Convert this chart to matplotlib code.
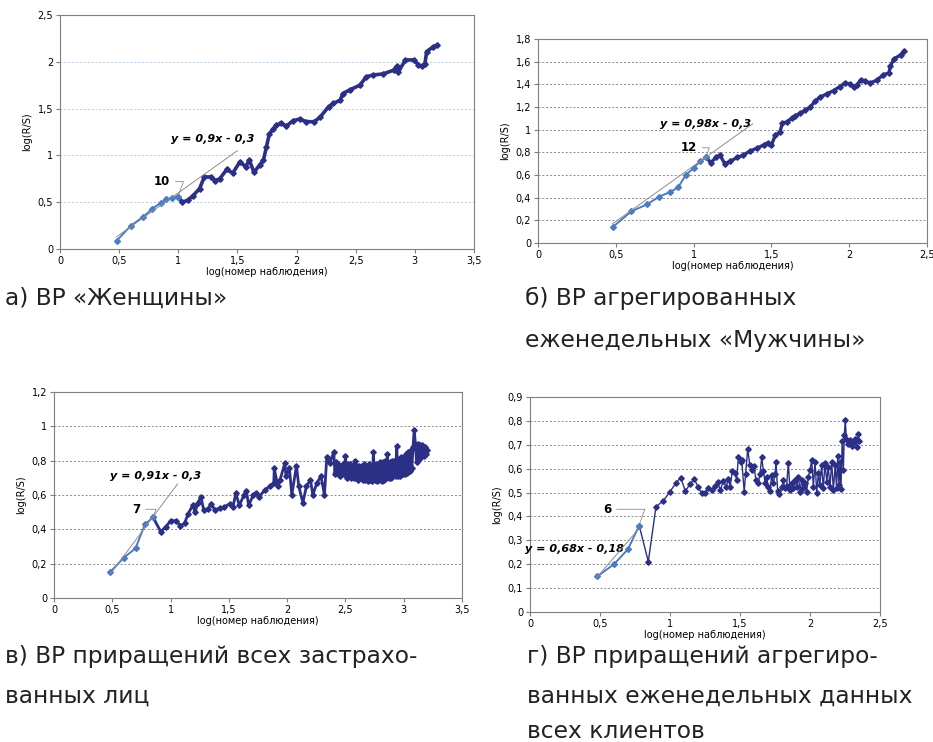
import matplotlib
matplotlib.use("Agg")
import matplotlib.pyplot as plt
from matplotlib.ticker import MultipleLocator, FuncFormatter

# --- данные ---
# а) ВР «Женщины»
a_light_x = [0.48, 0.60, 0.70, 0.78, 0.85, 0.90, 0.95, 1.00]
a_light_y = [0.09, 0.25, 0.34, 0.43, 0.49, 0.53, 0.55, 0.56]
a_dark_x = [1.00, 1.03, 1.08, 1.125, 1.18, 1.22, 1.28, 1.31, 1.35, 1.41, 1.46, 1.52,
            1.57, 1.60, 1.64, 1.69, 1.72, 1.745, 1.77, 1.80, 1.83, 1.87, 1.91, 1.97,
            2.03, 2.08, 2.15, 2.20, 2.27, 2.31, 2.37, 2.39, 2.45, 2.535, 2.59, 2.65,
            2.73, 2.82, 2.845, 2.86, 2.92, 2.99, 3.03, 3.06, 3.085, 3.10, 3.155, 3.19]
a_dark_y = [0.56, 0.50, 0.52, 0.57, 0.645, 0.77, 0.77, 0.73, 0.75, 0.85, 0.81, 0.93,
            0.88, 0.95, 0.82, 0.90, 0.95, 1.09, 1.23, 1.28, 1.32, 1.35, 1.31, 1.37,
            1.39, 1.36, 1.36, 1.41, 1.52, 1.555, 1.59, 1.66, 1.70, 1.75, 1.84, 1.86,
            1.87, 1.91, 1.95, 1.89, 2.02, 2.02, 1.97, 1.95, 1.98, 2.11, 2.16, 2.18]
a_fit_x = [0.477, 1.5]
a_slope, a_icpt = 0.9, -0.3

# б) ВР агрегированных еженедельных «Мужчины»
b_light_x = [0.48, 0.60, 0.70, 0.78, 0.85, 0.90, 0.95, 1.00, 1.04, 1.08]
b_light_y = [0.14, 0.28, 0.34, 0.41, 0.45, 0.49, 0.60, 0.66, 0.72, 0.755]
b_dark_x = [1.08, 1.11, 1.145, 1.17, 1.20, 1.235, 1.28, 1.32, 1.36, 1.405, 1.45, 1.48,
            1.50, 1.525, 1.555, 1.57, 1.60, 1.63, 1.65, 1.685, 1.715, 1.75, 1.78, 1.81,
            1.855, 1.90, 1.94, 1.975, 2.005, 2.03, 2.05, 2.075, 2.10, 2.135, 2.18, 2.22,
            2.255, 2.265, 2.285, 2.33, 2.35]
b_dark_y = [0.755, 0.71, 0.755, 0.775, 0.70, 0.72, 0.755, 0.775, 0.81, 0.835, 0.865, 0.885,
            0.865, 0.95, 0.98, 1.055, 1.07, 1.10, 1.12, 1.145, 1.17, 1.20, 1.25, 1.285,
            1.315, 1.345, 1.38, 1.415, 1.40, 1.38, 1.395, 1.44, 1.43, 1.41, 1.44, 1.485,
            1.50, 1.56, 1.62, 1.66, 1.69]
b_fit_x = [0.477, 1.38]
b_slope, b_icpt = 0.98, -0.3

# в) ВР приращений всех застрахованных лиц
c_light_x = [0.48, 0.60, 0.70, 0.78, 0.85]
c_light_y = [0.15, 0.235, 0.29, 0.43, 0.47]
c_dark_x = [0.85, 0.915, 0.96, 1.00, 1.05, 1.085, 1.12, 1.15, 1.19, 1.21, 1.235, 1.26,
            1.285, 1.32, 1.35, 1.38, 1.42, 1.46, 1.51, 1.535, 1.56, 1.59, 1.63, 1.65,
            1.67, 1.71, 1.735, 1.76, 1.81, 1.85, 1.885, 1.89, 1.92, 1.94, 1.98, 1.99,
            2.02, 2.04, 2.08, 2.10, 2.135, 2.165, 2.20, 2.22, 2.255, 2.29, 2.32, 2.34,
            2.365,
            2.40, 2.41, 2.42, 2.43, 2.44, 2.45, 2.46, 2.47, 2.48, 2.49, 2.50, 2.51,
            2.52, 2.53, 2.54, 2.55, 2.56, 2.57, 2.58, 2.59, 2.60, 2.61, 2.62, 2.63,
            2.64, 2.65, 2.66, 2.67, 2.68, 2.69, 2.70, 2.71, 2.72, 2.73, 2.74, 2.75,
            2.76, 2.77, 2.78, 2.79, 2.80, 2.81, 2.82, 2.83, 2.84, 2.85, 2.86, 2.87,
            2.88, 2.89, 2.90, 2.91, 2.92, 2.93, 2.94, 2.95, 2.96, 2.97, 2.98, 2.99,
            3.00, 3.01, 3.02, 3.03, 3.04, 3.05, 3.06, 3.07, 3.08, 3.09, 3.10, 3.11,
            3.12, 3.13, 3.14, 3.15, 3.16, 3.17, 3.18, 3.19, 3.20]
c_dark_y = [0.47, 0.387, 0.415, 0.45, 0.45, 0.42, 0.435, 0.49, 0.54, 0.50, 0.555, 0.59,
            0.51, 0.52, 0.55, 0.51, 0.525, 0.53, 0.55, 0.53, 0.61, 0.54, 0.60, 0.625,
            0.54, 0.60, 0.61, 0.59, 0.63, 0.65, 0.67, 0.755, 0.65, 0.69, 0.785, 0.71,
            0.755, 0.60, 0.77, 0.65, 0.555, 0.65, 0.69, 0.60, 0.67, 0.71, 0.60, 0.82,
            0.785,
            0.85, 0.72, 0.79, 0.73, 0.78, 0.71, 0.77, 0.72, 0.78, 0.72, 0.83, 0.70,
            0.78, 0.71, 0.78, 0.70, 0.77, 0.70, 0.80, 0.70, 0.77, 0.69, 0.77, 0.70,
            0.77, 0.69, 0.78, 0.69, 0.77, 0.68, 0.78, 0.69, 0.77, 0.68, 0.85, 0.69,
            0.78, 0.68, 0.78, 0.69, 0.79, 0.68, 0.79, 0.69, 0.80, 0.70, 0.84, 0.70,
            0.79, 0.70, 0.80, 0.71, 0.80, 0.71, 0.885, 0.71, 0.81, 0.71, 0.82, 0.72,
            0.82, 0.72, 0.84, 0.73, 0.85, 0.74, 0.86, 0.76, 0.88, 0.98, 0.90, 0.79,
            0.90, 0.81, 0.89, 0.82, 0.89, 0.83, 0.88, 0.84, 0.86]
c_fit_x = [0.486, 1.06]
c_slope, c_icpt = 0.91, -0.3

# г) ВР приращений агрегированных еженедельных данных всех клиентов
d_light_x = [0.48, 0.60, 0.70, 0.78]
d_light_y = [0.149, 0.20, 0.263, 0.362]
d_dark_x = [0.78, 0.845, 0.90, 0.952, 1.00, 1.04, 1.076, 1.11, 1.143, 1.174, 1.20, 1.226,
            1.25, 1.274, 1.30, 1.32, 1.34, 1.36, 1.38, 1.40, 1.417, 1.43, 1.445, 1.464,
            1.476, 1.488, 1.505, 1.512, 1.53, 1.54, 1.555, 1.57, 1.588, 1.60, 1.614, 1.63,
            1.643, 1.655, 1.667, 1.68, 1.69, 1.70, 1.714, 1.726, 1.738, 1.75, 1.757, 1.769,
            1.78, 1.80, 1.81, 1.82, 1.833, 1.845, 1.857, 1.87, 1.88, 1.893, 1.905, 1.917,
            1.93, 1.94, 1.952, 1.964, 1.976, 1.988, 2.00, 2.012, 2.024, 2.036, 2.048, 2.06,
            2.07, 2.083, 2.095, 2.107, 2.12, 2.13, 2.143, 2.155, 2.167, 2.18, 2.19, 2.198,
            2.207, 2.214, 2.221, 2.23, 2.238, 2.245, 2.252, 2.26, 2.274, 2.286, 2.298,
            2.31, 2.321, 2.333, 2.345, 2.352]
d_dark_y = [0.362, 0.211, 0.441, 0.465, 0.504, 0.538, 0.563, 0.506, 0.536, 0.556, 0.524, 0.497,
            0.50, 0.517, 0.51, 0.527, 0.544, 0.51, 0.55, 0.524, 0.555, 0.524, 0.59, 0.58,
            0.552, 0.647, 0.626, 0.636, 0.504, 0.577, 0.682, 0.615, 0.594, 0.61, 0.552, 0.542,
            0.577, 0.647, 0.591, 0.538, 0.566, 0.524, 0.506, 0.573, 0.538, 0.577, 0.629, 0.506,
            0.492, 0.524, 0.552, 0.517, 0.527, 0.625, 0.51, 0.538, 0.517, 0.552, 0.524, 0.566,
            0.504, 0.552, 0.517, 0.538, 0.504, 0.566, 0.594, 0.636, 0.524, 0.629, 0.50, 0.58,
            0.531, 0.615, 0.517, 0.622, 0.545, 0.608, 0.524, 0.629, 0.51, 0.615, 0.517, 0.652,
            0.531, 0.629, 0.513, 0.715, 0.594, 0.74, 0.805, 0.726, 0.705, 0.719, 0.694,
            0.708, 0.726, 0.691, 0.747, 0.716]
d_fit_x = [0.476, 0.774]
d_slope, d_icpt = 0.68, -0.18

LIGHT = "#4a7cc4"
DARK = "#2b2f86"


def fmt_comma(v, pos):
    return ("%g" % round(v, 2)).replace(".", ",")


def panel(rect, lx, ly, dx, dy, fit_x, k, b, xmax, ymax, ystep, grid_col,
          eq_txt, eq_xy, lab, lab_xy, lab_to, dark_lw):
    ax = fig.add_axes(rect)
    ax.plot(dx, dy, color=DARK, lw=dark_lw, marker="D", ms=2.8, zorder=3)
    ax.plot(lx, ly, color=LIGHT, lw=1.4, marker="D", ms=3, mec=LIGHT, zorder=4)
    ax.plot(fit_x, [k * x + b for x in fit_x], color="#8c8c8c", lw=0.7, zorder=5)
    ax.set_xlim(0, xmax)
    ax.set_ylim(0, ymax)
    ax.xaxis.set_major_locator(MultipleLocator(0.5))
    ax.yaxis.set_major_locator(MultipleLocator(ystep))
    ax.xaxis.set_major_formatter(FuncFormatter(fmt_comma))
    ax.yaxis.set_major_formatter(FuncFormatter(fmt_comma))
    ax.grid(axis="y", color=grid_col, ls=(0, (2, 2)), lw=0.7)
    ax.set_axisbelow(True)
    for s in ax.spines.values():
        s.set_color("#7f7f7f")
        s.set_linewidth(0.8)
    ax.tick_params(labelsize=7, length=3, color="#7f7f7f", pad=2)
    ax.set_xlabel("log(номер наблюдения)", fontsize=7, labelpad=1)
    ax.set_ylabel("log(R/S)", fontsize=7, labelpad=4)
    ax.text(eq_xy[0], eq_xy[1], eq_txt, fontsize=8, fontweight="bold", style="italic",
            ha="center", va="center")
    ax.annotate(lab, xy=lab_to, xytext=lab_xy, fontsize=8.5, fontweight="bold",
                ha="right", va="center",
                arrowprops=dict(arrowstyle="-", color="#8c8c8c", lw=0.6,
                                connectionstyle="angle,angleA=0,angleB=70,rad=0",
                                shrinkA=2, shrinkB=0))
    return ax


fig = plt.figure(figsize=(9.33, 7.42), dpi=100)

panel([60 / 933, 1 - 249 / 742, 414 / 933, 234 / 742],
      a_light_x, a_light_y, a_dark_x, a_dark_y, a_fit_x, a_slope, a_icpt,
      3.5, 2.5, 0.5, "#b8cde6", "y = 0,9x - 0,3", (1.29, 1.18),
      "10", (0.93, 0.72), (1.0, 0.57), 2.6)
panel([538 / 933, 1 - 243 / 742, 389 / 933, 204 / 742],
      b_light_x, b_light_y, b_dark_x, b_dark_y, b_fit_x, b_slope, b_icpt,
      2.5, 1.8, 0.2, "#8a8a8a", "y = 0,98x - 0,3", (1.08, 1.05),
      "12", (1.02, 0.84), (1.08, 0.76), 2.4)
panel([54 / 933, 1 - 598 / 742, 408 / 933, 206 / 742],
      c_light_x, c_light_y, c_dark_x, c_dark_y, c_fit_x, c_slope, c_icpt,
      3.5, 1.2, 0.2, "#8a8a8a", "y = 0,91x - 0,3", (0.87, 0.71),
      "7", (0.74, 0.517), (0.85, 0.47), 2.0)
panel([530 / 933, 1 - 612 / 742, 350 / 933, 215 / 742],
      d_light_x, d_light_y, d_dark_x, d_dark_y, d_fit_x, d_slope, d_icpt,
      2.5, 0.9, 0.1, "#8a8a8a", "y = 0,68x - 0,18", (0.32, 0.263),
      "6", (0.58, 0.43), (0.78, 0.365), 1.0)

# подписи
cap = dict(fontsize=16.8, color="#222222", va="center", ha="left")
fig.text(5 / 933, 1 - 298 / 742, "а) ВР «Женщины»", **cap)
fig.text(525 / 933, 1 - 298 / 742, "б) ВР агрегированных", **cap)
fig.text(525 / 933, 1 - 340 / 742, "еженедельных «Мужчины»", **cap)
fig.text(5 / 933, 1 - 657 / 742, "в) ВР приращений всех застрахо-", **cap)
fig.text(5 / 933, 1 - 696 / 742, "ванных лиц", **cap)
fig.text(527 / 933, 1 - 657 / 742, "г) ВР приращений агрегиро-", **cap)
fig.text(527 / 933, 1 - 696 / 742, "ванных еженедельных данных", **cap)
fig.text(527 / 933, 1 - 731 / 742, "всех клиентов", **cap)

fig.savefig("out.png", dpi=100)
